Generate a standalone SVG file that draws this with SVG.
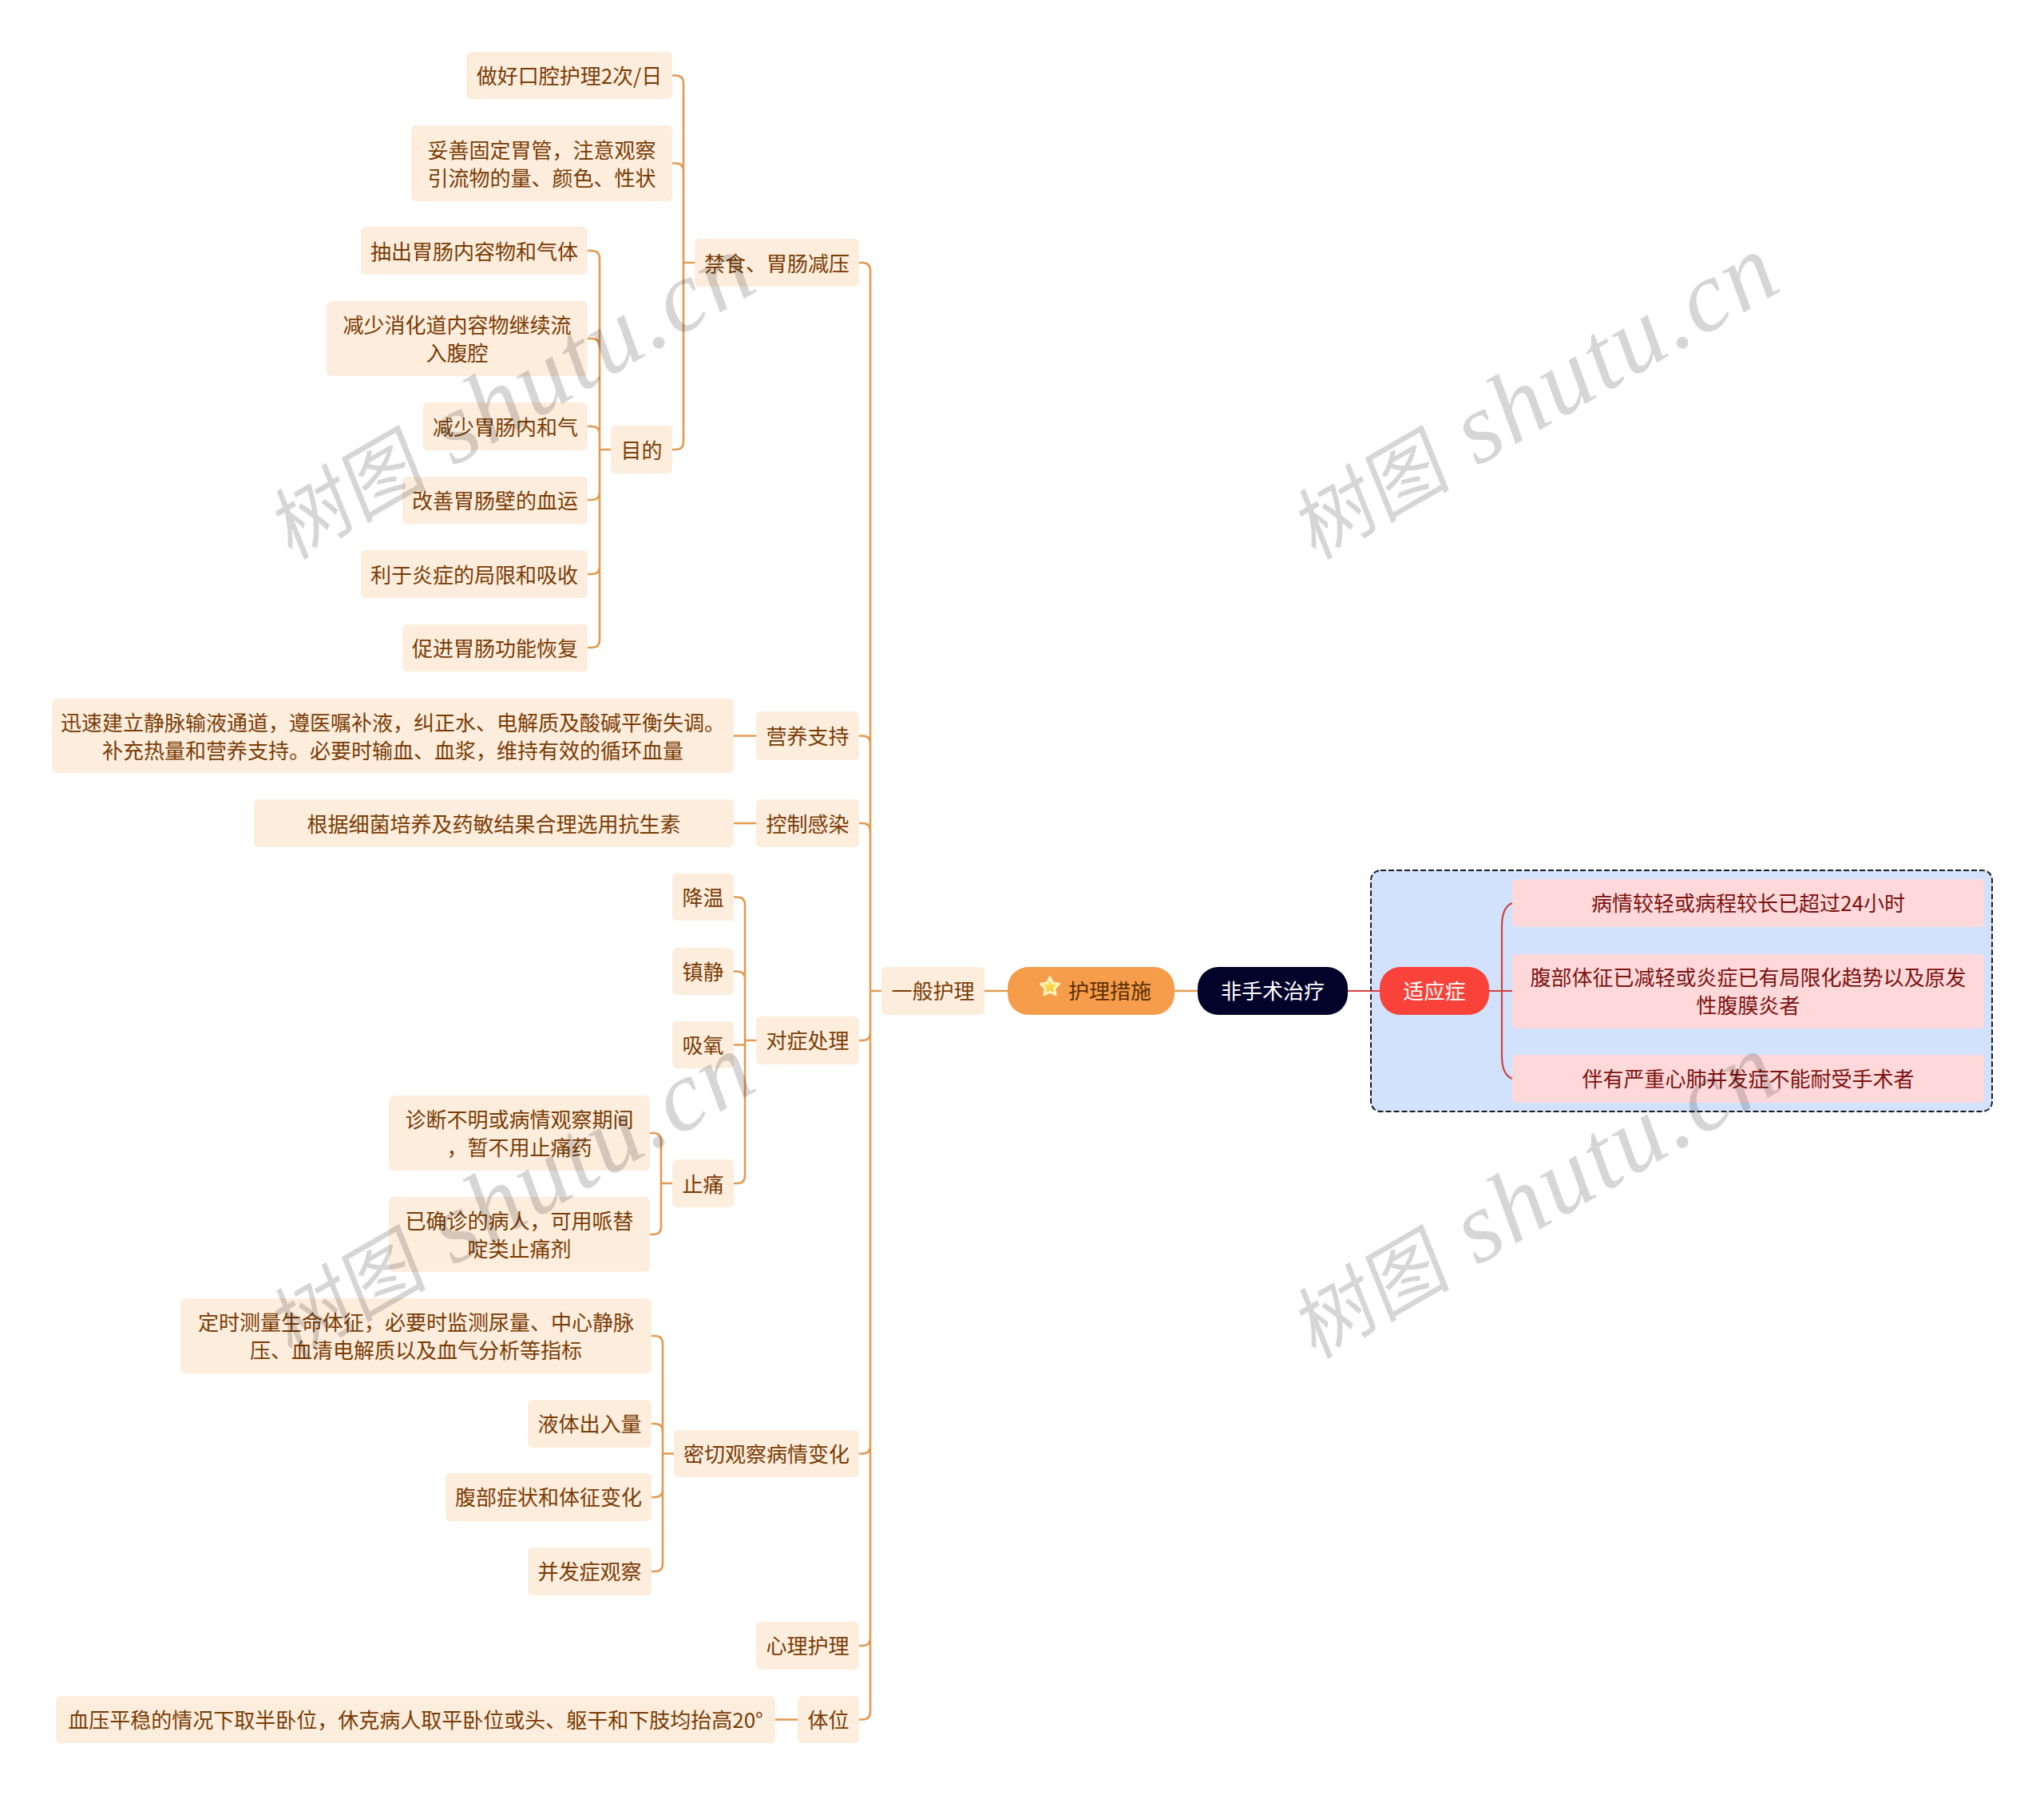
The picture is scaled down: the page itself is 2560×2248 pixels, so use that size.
<svg xmlns="http://www.w3.org/2000/svg" width="2560" height="2248" viewBox="0 0 2560 2248">
<style>
text{font-family:"Noto Sans CJK SC","Noto Sans",sans-serif;font-size:26px;text-anchor:middle;fill:#7a3c05}
.b{fill:#fdeddd}
.r{fill:#ffd9d9}
.rt{fill:#7c1212}
.w{fill:#fff}
.c{fill:none;stroke:#e39a50;stroke-width:2.6}
.cr{fill:none;stroke:#d2403c;stroke-width:2.2}
.wm text{fill:#000;fill-opacity:.16;text-anchor:start}
.wa{font-family:"Liberation Serif",serif;font-style:italic;font-size:126px;letter-spacing:3px}
.wb{font-family:"Noto Sans CJK SC",sans-serif;font-size:100px;font-weight:400}
</style>
<defs>
<linearGradient id="star" x1="0" y1="0" x2="0" y2="1"><stop offset="0" stop-color="#fff06a"/><stop offset="1" stop-color="#f9bd2c"/></linearGradient>
<g id="mark" class="wm"><text class="wb" x="0" y="0" transform="skewX(-8)">树图</text><text class="wa" x="235" y="0">shutu.cn</text></g>
</defs>
<rect width="2560" height="2248" fill="#fff"/>
<g id="connectors">
<path class="c" d="M842 94.500H846Q856 94.500 856 104.500V553Q856 563 846 563H842M842 204.500H846Q856 204.500 856 214.500M856 329H870"/>
<path class="c" d="M736 314H741Q751 314 751 324V801Q751 811 741 811H736M736 424H741Q751 424 751 434M736 534H741Q751 534 751 544M736 626H741Q751 626 751 616M736 719H741Q751 719 751 709M751 563H765"/>
<path class="c" d="M919 921.500H947M919 1031H947"/>
<path class="c" d="M919 1123.500H923Q933 1123.500 933 1133.500V1472Q933 1482 923 1482H919M919 1216.500H923Q933 1216.500 933 1226.500M919 1308.500H933M933 1303H947"/>
<path class="c" d="M814 1419H818Q828 1419 828 1429V1536Q828 1546 818 1546H814M828 1482H842"/>
<path class="c" d="M816 1673H820Q830 1673 830 1683V1958Q830 1968 820 1968H816M816 1783H820Q830 1783 830 1793M816 1875H820Q830 1875 830 1865M830 1820.500H844"/>
<path class="c" d="M971 2153.500H999"/>
<path class="c" d="M1076 329H1080Q1090 329 1090 339V2143.500Q1090 2153.500 1080 2153.500H1076M1076 921.500H1080Q1090 921.500 1090 931.500M1076 1031H1080Q1090 1031 1090 1041M1076 1303H1080Q1090 1303 1090 1293M1076 1820.500H1080Q1090 1820.500 1090 1810.500M1076 2061H1080Q1090 2061 1090 2051M1090 1241H1104M1233 1241H1262M1471 1241H1500"/>
</g>
<g id="group-box"><rect x="1717" y="1090" width="778" height="302" rx="12" fill="#d2e2fd" stroke="#1c1c24" stroke-width="2" stroke-dasharray="7 3"/></g>
<g id="connectors-red">
<path class="cr" d="M1688 1241H1728M1865 1241H1894M1894 1131Q1881 1136 1881 1160V1322Q1881 1346 1894 1351"/>
</g>
<g id="n-kouqiang"><rect class="b" x="584" y="65" width="258" height="59" rx="6"/><text x="713" y="105">做好口腔护理2次/日</text></g>
<g id="n-weiguan"><rect class="b" x="515" y="157" width="327" height="95" rx="6"/><text x="678.500" y="197.500">妥善固定胃管，注意观察</text><text x="678.500" y="232.500">引流物的量、颜色、性状</text></g>
<g id="n-chouchu"><rect class="b" x="452" y="284" width="284" height="60" rx="6"/><text x="594" y="325">抽出胃肠内容物和气体</text></g>
<g id="n-xiaohua"><rect class="b" x="409" y="377" width="327" height="94" rx="6"/><text x="572.500" y="417">减少消化道内容物继续流</text><text x="572.500" y="452">入腹腔</text></g>
<g id="n-neihe"><rect class="b" x="530" y="504" width="206" height="60" rx="6"/><text x="633" y="545">减少胃肠内和气</text></g>
<g id="n-mudi"><rect class="b" x="765" y="533" width="77" height="60" rx="6"/><text x="803.500" y="574">目的</text></g>
<g id="n-jinshi"><rect class="b" x="870" y="299" width="206" height="60" rx="6"/><text x="973" y="340">禁食、胃肠减压</text></g>
<g id="n-xueyun"><rect class="b" x="504" y="597" width="232" height="59" rx="6"/><text x="620" y="637">改善胃肠壁的血运</text></g>
<g id="n-yanzheng"><rect class="b" x="452" y="689" width="284" height="60" rx="6"/><text x="594" y="730">利于炎症的局限和吸收</text></g>
<g id="n-huifu"><rect class="b" x="504" y="782" width="232" height="59" rx="6"/><text x="620" y="822">促进胃肠功能恢复</text></g>
<g id="n-shuye"><rect class="b" x="65" y="875" width="854" height="93" rx="6"/><text x="492" y="914.500">迅速建立静脉输液通道，遵医嘱补液，纠正水、电解质及酸碱平衡失调。</text><text x="492" y="949.500">补充热量和营养支持。必要时输血、血浆，维持有效的循环血量</text></g>
<g id="n-yingyang"><rect class="b" x="947" y="891" width="129" height="61" rx="6"/><text x="1011.500" y="932">营养支持</text></g>
<g id="n-kangsheng"><rect class="b" x="318" y="1001" width="601" height="60" rx="6"/><text x="618.500" y="1042">根据细菌培养及药敏结果合理选用抗生素</text></g>
<g id="n-kongzhi"><rect class="b" x="947" y="1001" width="129" height="60" rx="6"/><text x="1011.500" y="1042">控制感染</text></g>
<g id="n-jiangwen"><rect class="b" x="842" y="1094" width="77" height="59" rx="6"/><text x="880.500" y="1134">降温</text></g>
<g id="n-zhenjing"><rect class="b" x="842" y="1187" width="77" height="59" rx="6"/><text x="880.500" y="1227">镇静</text></g>
<g id="n-xiyang"><rect class="b" x="842" y="1279" width="77" height="59" rx="6"/><text x="880.500" y="1319">吸氧</text></g>
<g id="n-duizheng"><rect class="b" x="947" y="1273" width="129" height="60" rx="6"/><text x="1011.500" y="1313">对症处理</text></g>
<g id="n-zhitong"><rect class="b" x="842" y="1452" width="77" height="60" rx="6"/><text x="880.500" y="1493">止痛</text></g>
<g id="n-zhenduan"><rect class="b" x="487" y="1372" width="327" height="94" rx="6"/><text x="650.500" y="1411.500">诊断不明或病情观察期间</text><text x="650.500" y="1446.500">，暂不用止痛药</text></g>
<g id="n-quezhen"><rect class="b" x="487" y="1499" width="327" height="94" rx="6"/><text x="650.500" y="1538.500">已确诊的病人，可用哌替</text><text x="650.500" y="1573.500">啶类止痛剂</text></g>
<g id="n-dingshi"><rect class="b" x="226" y="1626" width="590" height="94" rx="6"/><text x="521" y="1665.500">定时测量生命体征，必要时监测尿量、中心静脉</text><text x="521" y="1700.500">压、血清电解质以及血气分析等指标</text></g>
<g id="n-yeti"><rect class="b" x="661" y="1753" width="155" height="60" rx="6"/><text x="738.500" y="1793">液体出入量</text></g>
<g id="n-fubu"><rect class="b" x="558" y="1845" width="258" height="60" rx="6"/><text x="687" y="1885">腹部症状和体征变化</text></g>
<g id="n-bingfa"><rect class="b" x="661" y="1938" width="155" height="60" rx="6"/><text x="738.500" y="1978">并发症观察</text></g>
<g id="n-miqie"><rect class="b" x="844" y="1791" width="232" height="59" rx="6"/><text x="960" y="1831">密切观察病情变化</text></g>
<g id="n-xinli"><rect class="b" x="947" y="2031" width="129" height="60" rx="6"/><text x="1011.500" y="2071">心理护理</text></g>
<g id="n-xueya"><rect class="b" x="70" y="2124" width="901" height="59" rx="6"/><text x="520.500" y="2163.500">血压平稳的情况下取半卧位，休克病人取平卧位或头、躯干和下肢均抬高20°</text></g>
<g id="n-tiwei"><rect class="b" x="999" y="2124" width="77" height="59" rx="6"/><text x="1037.500" y="2163.500">体位</text></g>
<g id="n-yiban"><rect class="b" x="1104" y="1211" width="129" height="60" rx="6"/><text x="1168.500" y="1251">一般护理</text></g>
<g id="n-huli"><rect x="1262" y="1211" width="209" height="60" rx="26" fill="#f59d4b"/><polygon points="1315,1224 1318.500,1231.100 1326.400,1232.300 1320.700,1237.900 1322,1245.700 1315,1242 1308,1245.700 1309.300,1237.900 1303.600,1232.300 1311.500,1231.100" fill="url(#star)" stroke="#fff3c0" stroke-width="3" stroke-linejoin="round"/><text x="1390" y="1251" style="fill:#5c2e02">护理措施</text></g>
<g id="n-feishoushu"><rect x="1500" y="1211" width="188" height="60" rx="26" fill="#02022a"/><text class="w" x="1594" y="1251">非手术治疗</text></g>
<g id="n-shiyingzheng"><rect x="1728" y="1211" width="137" height="60" rx="26" fill="#f9423a"/><text class="w" x="1796.500" y="1251">适应症</text></g>
<g id="n-r1"><rect class="r" x="1894" y="1101" width="591" height="60" rx="6"/><text class="rt" x="2189.500" y="1141">病情较轻或病程较长已超过24小时</text></g>
<g id="n-r2"><rect class="r" x="1894" y="1195" width="591" height="93" rx="6"/><text class="rt" x="2189.500" y="1233.500">腹部体征已减轻或炎症已有局限化趋势以及原发</text><text class="rt" x="2189.500" y="1268.500">性腹膜炎者</text></g>
<g id="n-r3"><rect class="r" x="1894" y="1321" width="591" height="60" rx="6"/><text class="rt" x="2189.500" y="1361">伴有严重心肺并发症不能耐受手术者</text></g>
<g id="watermarks">
<use href="#mark" transform="translate(364 702) rotate(-30)"/>
<use href="#mark" transform="translate(1646 702) rotate(-30)"/>
<use href="#mark" transform="translate(364 1703) rotate(-30)"/>
<use href="#mark" transform="translate(1646 1703) rotate(-30)"/>
</g>
</svg>
